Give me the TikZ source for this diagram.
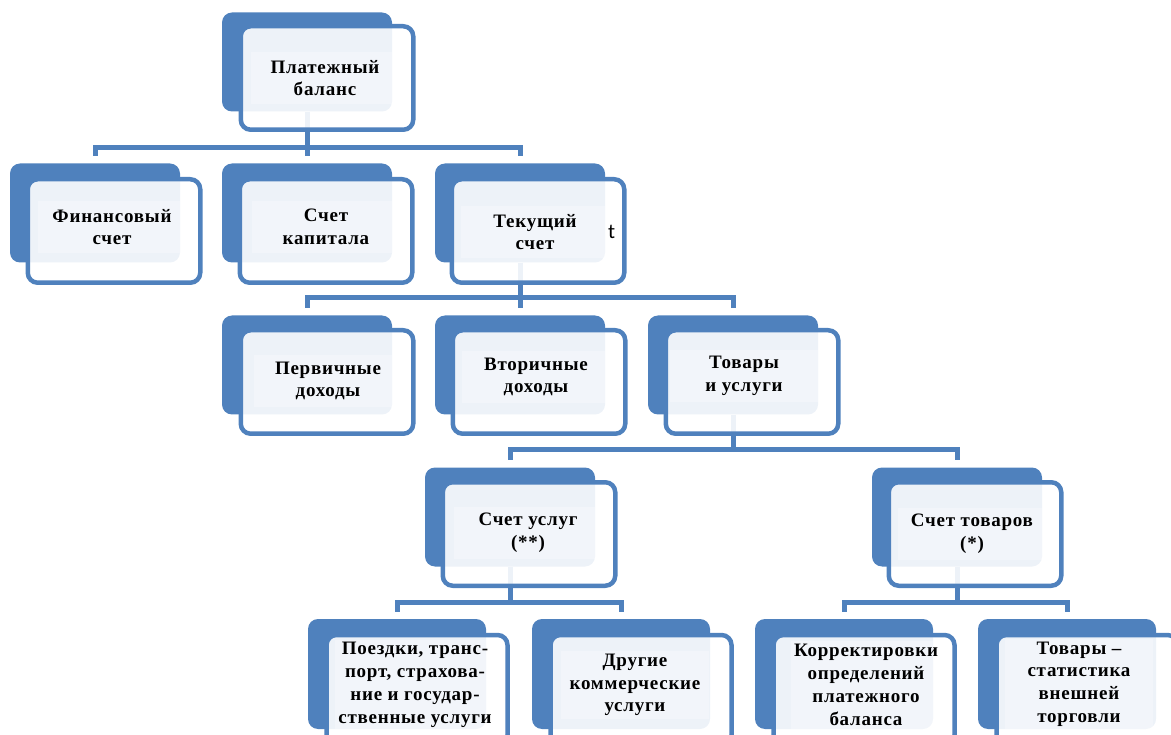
\documentclass[tikz,border=0pt]{standalone}
\usepackage{fontspec}
\setmainfont{Liberation Serif}[LetterSpace=4]
\newfontfamily\strayfont{Carlito}
\definecolor{boxblue}{HTML}{4F81BD}

\begin{document}
\begin{tikzpicture}
  [x=1pt,y=-1pt,
   backbox/.style={rectangle,rounded corners=10pt,fill=boxblue,minimum width=170pt,minimum height=99pt,inner sep=0pt},
   frontbox/.style={rectangle,rounded corners=10pt,draw=boxblue,line width=4.5pt,fill=white,fill opacity=.9,minimum width=172.5pt,minimum height=103.5pt,inner sep=0pt},
   lbl/.style={fill=white,fill opacity=.3,text opacity=1,align=center,minimum width=148pt,minimum height=52pt,inner sep=3pt,font=\bfseries\fontsize{19}{22.8}\selectfont},
   link/.style={draw=boxblue,line width=5pt}]
  \useasboundingbox (0,0) rectangle (1171,735);
  \clip (0,0) rectangle (1171,735);

  % back plates
  \node[backbox] (bal) at (307,62) {};
  \node[backbox] (fin) at (95,213) {};
  \node[backbox] (kap) at (307,213) {};
  \node[backbox] (tek) at (520,213) {};
  \node[backbox] (perv) at (307,365) {};
  \node[backbox] (vtor) at (520,365) {};
  \node[backbox] (tov) at (733,365) {};
  \node[backbox] (usl) at (510,517) {};
  \node[backbox] (tovr) at (957,517) {};
  \node[backbox,minimum width=178pt,minimum height=110pt] (poezd) at (397,674) {};
  \node[backbox,minimum width=178pt,minimum height=110pt] (drug) at (621,674) {};
  \node[backbox,minimum width=178pt,minimum height=110pt] (korr) at (844,674) {};
  \node[backbox,minimum width=178pt,minimum height=110pt] (stat) at (1067,674) {};

  % connectors
  \coordinate (j1) at (307,148);
  \coordinate (j2) at (520,298);
  \coordinate (j3) at (733,450);
  \coordinate (j4) at (510,602);
  \coordinate (j5) at (957,602);
  \draw[link] (bal.south) -- (j1);
  \draw[link] (tek.south) -- (j2);
  \draw[link] (tov.south) -- (j3);
  \draw[link] (usl.south) -- (j4);
  \draw[link] (tovr.south) -- (j5);
  \foreach \from/\to in {j1/fin,j1/kap,j1/tek,j2/perv,j2/vtor,j2/tov,j3/usl,j3/tovr,j4/poezd,j4/drug,j5/korr,j5/stat}
    \draw[link,shorten >=7pt] (\from) -| (\to.north);

  % front plates
  \node[frontbox] (bal-f) at (327,78) {};
  \node[frontbox] (fin-f) at (114,231) {};
  \node[frontbox] (kap-f) at (326,231) {};
  \node[frontbox] (tek-f) at (538,231) {};
  \node[frontbox] (perv-f) at (327,382) {};
  \node[frontbox] (vtor-f) at (539,382) {};
  \node[frontbox] (tov-f) at (752,382) {};
  \node[frontbox] (usl-f) at (529,534) {};
  \node[frontbox] (tovr-f) at (975,534) {};
  \node[frontbox,minimum width=181pt,minimum height=110pt] (poezd-f) at (417,690) {};
  \node[frontbox,minimum width=181pt,minimum height=110pt] (drug-f) at (641,690) {};
  \node[frontbox,minimum width=181pt,minimum height=110pt] (korr-f) at (864,690) {};
  \node[frontbox,minimum width=181pt,minimum height=110pt] (stat-f) at (1087,690) {};

  % labels
  \node[lbl] (bal-t) at (325,78) {Платежный\\баланс};
  \node[lbl] (fin-t) at (112,227) {Финансовый\\счет};
  \node[lbl] (kap-t) at (326,227) {Счет\\капитала};
  \node[lbl] (tek-t) at (535,232) {Текущий\\счет};
  \node[font=\strayfont\fontsize{21}{24}\selectfont,anchor=west,inner sep=0pt] (stray) at (608,232) {t};
  \node[lbl] (perv-t) at (328,381) {Первичные\\доходы};
  \node[lbl] (vtor-t) at (536,377) {Вторичные\\доходы};
  \node[lbl] (tov-t) at (744,376) {Товары\\и услуги};
  \node[lbl] (usl-t) at (528,533) {Счет услуг\\(**)};
  \node[lbl] (tovr-t) at (972,534) {Счет товаров\\(*)};
  \node[lbl] (poezd-t) at (415,685) {Поездки, транс-\\порт, страхова-\\ние и государ-\\ственные услуги};
  \node[lbl] (drug-t) at (635,685) {Другие\\коммерческие\\услуги};
  \node[lbl] (korr-t) at (866,685) {Корректировки\\определений\\платежного\\баланса};
  \node[lbl] (stat-t) at (1079,684) {Товары –\\статистика\\внешней\\торговли};
\end{tikzpicture}
\end{document}
